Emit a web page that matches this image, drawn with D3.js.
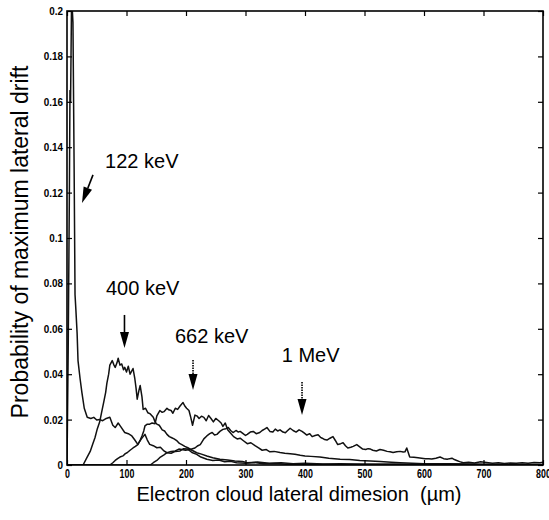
<!DOCTYPE html>
<html>
<head>
<meta charset="utf-8">
<script src="https://cdn.jsdelivr.net/npm/d3@7"></script>
<style>
body { margin: 0; background: #fff; }
text { font-family: "Liberation Sans", Arial, Helvetica, sans-serif; }
</style>
</head>
<body>
<div id="chart"></div>
<script>
// values: [lateral dimension (um), probability]
const kev122 = [[0,0],[2,0.05],[4,0.12],[5,0.165],[6,0.16],[7.5,0.2],[9,0.2],[10,0.195],[12,0.13],[13.5,0.075],[15,0.068],[17,0.058],[18.5,0.046],[22,0.038],[25,0.032],[29,0.025],[34,0.021],[40,0.0205],[45,0.021],[50,0.0198],[55,0.02],[60,0.0195],[66,0.0205],[72,0.021],[77,0.0175],[81,0.0165],[86,0.0185],[90,0.017],[97,0.0143],[103,0.0138],[109,0.0128],[114,0.011],[119,0.0091],[125,0.0115],[131,0.0135],[135,0.011],[139,0.0091],[145,0.0085],[151,0.0076],[157,0.0078],[163,0.0062],[168,0.0054],[175,0.0052],[182,0.006],[190,0.0062],[196,0.0072],[203,0.007],[210,0.0055],[218,0.0047],[225,0.0035],[235,0.0025],[245,0.002],[255,0.0022],[265,0.0014],[275,0.0016],[285,0.001],[300,0.0008],[315,0.0011],[330,0.0005],[350,0.0007],[370,0.0003],[400,0.0004],[450,0.0002],[500,0.0003],[550,0.0001],[600,0.0002],[700,0.0001],[800,0]];

const kev400 = [[0,0],[27,0],[33,0.003],[39,0.006],[43,0.009],[47,0.012],[51,0.016],[55,0.019],[58,0.023],[62,0.028],[65,0.032],[67,0.036],[70,0.040],[72,0.044],[76,0.046],[79,0.044],[81,0.043],[84,0.045],[86,0.047],[89,0.044],[92,0.0445],[95,0.042],[97,0.043],[100,0.041],[103,0.0435],[106,0.040],[108,0.041],[111,0.0425],[114,0.038],[116,0.034],[118,0.029],[121,0.033],[123,0.035],[126,0.030],[128,0.0245],[132,0.025],[136,0.023],[140,0.0225],[145,0.021],[148,0.019],[151,0.018],[155,0.0175],[160,0.0155],[164,0.015],[168,0.0135],[172,0.0125],[176,0.012],[180,0.0115],[185,0.0106],[189,0.0095],[193,0.009],[198,0.0082],[203,0.0076],[210,0.0065],[218,0.0054],[226,0.0048],[235,0.004],[245,0.0032],[257,0.0025],[270,0.0022],[282,0.0018],[295,0.0015],[303,0.001],[320,0.0013],[340,0.0008],[360,0.001],[380,0.0006],[400,0.0008],[430,0.0004],[460,0.0005],[500,0.0003],[550,0.0004],[600,0.0002],[650,0.0003],[700,0.0001],[750,0.0002],[800,0.0001]];

const kev662 = [[0,0],[72,0],[77,0.001],[81,0.002],[85,0.0028],[89,0.0035],[94,0.004],[98,0.005],[101,0.0054],[106,0.0065],[111,0.0075],[115,0.0082],[119,0.009],[123,0.011],[126,0.0128],[129,0.015],[131,0.0172],[135,0.018],[139,0.018],[143,0.0185],[148,0.0182],[151,0.0216],[156,0.024],[160,0.0232],[163,0.0235],[168,0.025],[171,0.0243],[175,0.024],[178,0.0228],[182,0.025],[186,0.0245],[190,0.026],[195,0.0275],[198,0.026],[201,0.025],[205,0.024],[208,0.021],[211,0.0175],[215,0.022],[219,0.0215],[222,0.0205],[226,0.0215],[230,0.021],[234,0.0195],[238,0.0218],[242,0.0205],[246,0.019],[250,0.0205],[255,0.0195],[259,0.0185],[262,0.017],[266,0.0185],[270,0.0155],[274,0.0143],[280,0.0125],[286,0.0115],[291,0.0118],[296,0.0108],[303,0.0094],[309,0.0098],[316,0.0085],[322,0.0075],[328,0.0065],[335,0.0068],[341,0.0058],[348,0.006],[358,0.0055],[366,0.0052],[375,0.005],[383,0.0047],[392,0.0043],[400,0.004],[410,0.0038],[425,0.0035],[440,0.003],[459,0.0025],[475,0.0024],[492,0.002],[510,0.0018],[526,0.0015],[545,0.0012],[560,0.001],[580,0.0008],[600,0.0006],[640,0.0005],[680,0.0004],[720,0.0003],[760,0.0002],[800,0.0002]];

const mev1 = [[0,0],[140,0],[145,0.001],[151,0.002],[157,0.0035],[163,0.0045],[168,0.0054],[175,0.006],[182,0.0062],[188,0.007],[193,0.0068],[199,0.0065],[207,0.0068],[215,0.0075],[220,0.0085],[224,0.009],[230,0.0115],[235,0.0128],[240,0.0138],[244,0.0143],[248,0.0132],[252,0.0135],[257,0.0148],[262,0.0157],[267,0.016],[271,0.0165],[275,0.0152],[279,0.0143],[284,0.0152],[288,0.0145],[291,0.0148],[296,0.0138],[300,0.013],[303,0.0135],[308,0.0145],[313,0.0148],[318,0.0138],[324,0.0143],[328,0.0152],[332,0.0158],[336,0.0165],[341,0.0148],[346,0.0145],[350,0.0158],[354,0.015],[358,0.0155],[363,0.0145],[367,0.0142],[370,0.015],[375,0.0162],[380,0.0152],[385,0.0145],[390,0.0155],[395,0.0148],[399,0.014],[403,0.0132],[408,0.0138],[412,0.0125],[417,0.013],[422,0.0133],[426,0.0122],[429,0.0118],[433,0.0112],[437,0.011],[442,0.0118],[447,0.0125],[451,0.0108],[455,0.009],[460,0.0094],[464,0.0098],[468,0.0085],[472,0.0075],[477,0.0078],[481,0.0082],[487,0.009],[492,0.008],[497,0.007],[502,0.0068],[506,0.0072],[510,0.007],[514,0.0065],[520,0.0062],[526,0.0068],[532,0.0065],[538,0.006],[543,0.0058],[548,0.0055],[554,0.0058],[560,0.006],[565,0.0057],[568,0.0058],[571,0.0075],[576,0.0035],[583,0.0034],[590,0.0032],[596,0.003],[602,0.0028],[608,0.0027],[613,0.0026],[620,0.003],[627,0.0035],[633,0.0028],[639,0.0025],[643,0.0028],[647,0.003],[651,0.0024],[655,0.002],[660,0.0015],[666,0.001],[675,0.0012],[685,0.0009],[695,0.0014],[705,0.0011],[715,0.0008],[725,0.001],[735,0.0007],[745,0.0009],[755,0.0008],[765,0.001],[775,0.0008],[785,0.0011],[795,0.001],[800,0.0012]];

const xTicks = [0,100,200,300,400,500,600,700,800];
const yTicks = [0,0.02,0.04,0.06,0.08,0.1,0.12,0.14,0.16,0.18,0.2];

// energy labels with their arrows, in data units
const notes = [
  {text:"122 keV", lx:64,  ly:0.1308, x1:43.7, y1:0.1278, x2:25.2, y2:0.1154, dotted:false},
  {text:"400 keV", lx:65.5, ly:0.0749, x1:96.6, y1:0.0661, x2:96.6, y2:0.0515, dotted:false},
  {text:"662 keV", lx:181.5, ly:0.0537, x1:211.8, y1:0.0463, x2:211.8, y2:0.033, dotted:true},
  {text:"1 MeV",   lx:361, ly:0.0454, x1:395, y1:0.0366, x2:395, y2:0.022, dotted:true}
];

const w = 549, h = 520;
const pLeft = 67, pRight = 543, pTop = 11, pBottom = 465;

const x = d3.scaleLinear().domain([0,800]).range([pLeft,pRight]);
const y = d3.scaleLinear().domain([0,0.2]).range([pBottom,pTop]);

const svg = d3.select("#chart").append("svg")
  .attr("width", w)
  .attr("height", h);

svg.append("defs").append("clipPath").attr("id","plot")
  .append("rect")
  .attr("x", pLeft).attr("y", pTop)
  .attr("width", pRight-pLeft).attr("height", pBottom-pTop);

const line = d3.line().x(d => x(d[0])).y(d => y(d[1]));

svg.append("g").attr("clip-path","url(#plot)")
  .selectAll("path")
  .data([mev1, kev662, kev400, kev122])
  .enter()
  .append("path")
  .attr("d", line)
  .attr("fill","none")
  .attr("stroke","#111")
  .attr("stroke-width",1.5)
  .attr("stroke-linejoin","round");

// axes, ticks pointing inward
const fmtY = d => d === 0 ? "0" : String(+d.toFixed(2));

const xAxis = svg.append("g")
  .attr("transform","translate(0,"+pBottom+")")
  .call(d3.axisBottom(x).tickValues(xTicks).tickSizeInner(-5).tickSizeOuter(0).tickPadding(4).tickFormat(d3.format("d")));
xAxis.selectAll("text")
  .attr("fill","#000")
  .style("font-size","12px")
  .style("font-weight","bold")
  .attr("transform","scale(0.74,1)");

const yAxis = svg.append("g")
  .attr("transform","translate("+pLeft+",0)")
  .call(d3.axisLeft(y).tickValues(yTicks).tickSizeInner(-5).tickSizeOuter(0).tickPadding(4).tickFormat(fmtY));
yAxis.selectAll("text")
  .attr("fill","#000")
  .attr("x", -4/0.9)
  .style("font-size","11px")
  .style("font-weight","bold")
  .attr("transform","scale(0.9,1)");

svg.append("g")
  .attr("transform","translate(0,"+pTop+")")
  .call(d3.axisTop(x).tickValues(xTicks).tickSizeInner(-5).tickSizeOuter(0).tickFormat(""));

svg.append("g")
  .attr("transform","translate("+pRight+",0)")
  .call(d3.axisRight(y).tickValues(yTicks).tickSizeInner(-5).tickSizeOuter(0).tickFormat(""));

svg.selectAll(".domain").remove();
svg.selectAll(".tick line").attr("stroke","#000").attr("stroke-width",1.2);

svg.append("rect")
  .attr("x", pLeft).attr("y", pTop)
  .attr("width", pRight-pLeft).attr("height", pBottom-pTop)
  .attr("fill","none")
  .attr("stroke","#000")
  .attr("stroke-width",1.6);

// axis titles
svg.append("text")
  .attr("x", 299).attr("y", 501)
  .attr("text-anchor","middle")
  .style("font-size","20px")
  .style("white-space","pre")
  .text("Electron cloud lateral dimesion  (\u00b5m)");

svg.append("text")
  .attr("transform","translate(28,242) rotate(-90)")
  .attr("text-anchor","middle")
  .style("font-size","23px")
  .text("Probability of maximum lateral drift");

// energy labels + arrows
const ann = svg.append("g").selectAll("g").data(notes).enter().append("g");

ann.append("text")
  .attr("x", d => x(d.lx))
  .attr("y", d => y(d.ly))
  .style("font-size","20px")
  .text(d => d.text);

ann.each(function(d) {
  const g = d3.select(this);
  const ax = x(d.x1), ay = y(d.y1), bx = x(d.x2), by = y(d.y2);
  const len = Math.hypot(bx-ax, by-ay);
  const ux = (bx-ax)/len, uy = (by-ay)/len;
  const hl = 16, hw = 4.5;
  const cx = bx - ux*hl, cy = by - uy*hl;
  g.append("line")
    .attr("x1", ax).attr("y1", ay)
    .attr("x2", cx).attr("y2", cy)
    .attr("stroke","#000")
    .attr("stroke-width", 1.6)
    .attr("stroke-dasharray", d.dotted ? "1.5,1" : null);
  g.append("path")
    .attr("d", "M"+bx+","+by+"L"+(cx-uy*hw)+","+(cy+ux*hw)+"L"+(cx+uy*hw)+","+(cy-ux*hw)+"Z")
    .attr("fill","#000");
});
</script>
</body>
</html>
